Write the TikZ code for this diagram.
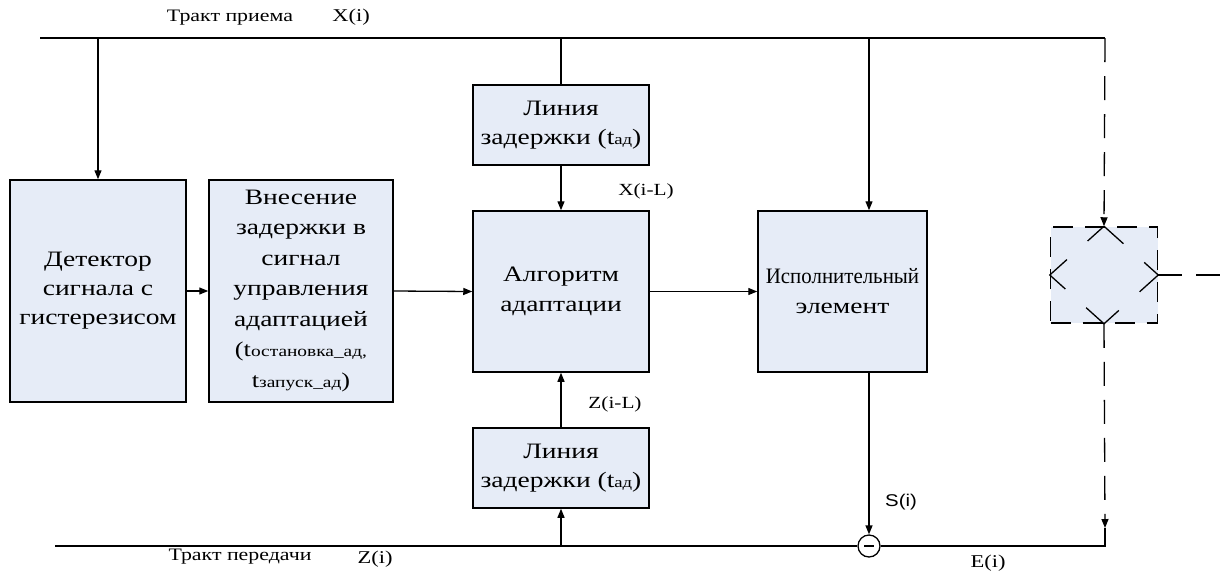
\documentclass[tikz,border=0pt]{standalone}
\usepackage{fontspec}
\setmainfont{Liberation Serif}[FakeStretch=1.25]
\newfontfamily\narrowserif{Liberation Serif}[FakeStretch=0.95]
\newfontfamily\labelsans{Liberation Sans}[FakeStretch=1.2]
\usetikzlibrary{arrows.meta}
\definecolor{boxfill}{RGB}{230,236,247}
\tikzset{
  blk/.style={draw, line width=1.5pt, fill=boxfill, align=center, inner sep=0pt,
              font=\fontsize{22}{29}\selectfont},
  conn/.style={line width=1.3pt},
  arr/.style={conn, -{Triangle[length=9pt,width=7pt]}},
  lbl/.style={inner sep=0pt, font=\fontsize{17.5}{19}\selectfont},
  sig/.style={inner sep=0pt, font=\fontsize{18}{20}\selectfont},
  dsh/.style={dash pattern=on 24pt off 14pt},
  dshbox/.style={draw, line width=1.5pt, fill=boxfill, dash pattern=on 20pt off 12pt, inner sep=0pt}
}
\begin{document}
\begin{tikzpicture}[x=1pt,y=-1pt]
\useasboundingbox (0,0) rectangle (1230,574);

% blocks
\node[blk, minimum width=176pt, minimum height=222pt] (det) at (98,291)
  {Детектор\\сигнала с\\гистерезисом};
\node[blk, minimum width=184pt, minimum height=222pt, font=\fontsize{22}{30.5}\selectfont] (intro) at (301,291)
  {Внесение\\задержки в\\сигнал\\управления\\адаптацией\\
   {\fontsize{21}{30}\selectfont (t{\fontsize{15.5}{30}\selectfont остановка\_ад,}}\\
   {\fontsize{21}{30}\selectfont t{\fontsize{15.5}{30}\selectfont запуск\_ад})}};
\node[blk, minimum width=176pt, minimum height=80pt] (d1) at (561,125)
  {Линия\\задержки (t{\fontsize{15}{20}\selectfont ад})};
\node[blk, minimum width=176pt, minimum height=161pt, font=\fontsize{22}{30}\selectfont] (alg) at (561,291.5)
  {Алгоритм\\адаптации};
\node[blk, minimum width=176pt, minimum height=80pt] (d2) at (561,468)
  {Линия\\задержки (t{\fontsize{15}{20}\selectfont ад})};
\node[blk, minimum width=169pt, minimum height=161pt, font=\fontsize{22}{30}\selectfont] (ex) at (842.5,291.5)
  {{\narrowserif Исполнительный}\\элемент};
\node[dshbox, minimum width=107pt, minimum height=96pt] (dbox) at (1104,275) {};
\node[draw, circle, line width=1.3pt, minimum size=22pt, inner sep=0pt, fill=white] (sub) at (869,546) {};
\draw[line width=1.6pt] ([xshift=-5pt]sub.center) -- ([xshift=5pt]sub.center);

% coordinates of the rails
\coordinate (tl) at (40,38);
\coordinate (tr) at (1105,38);
\coordinate (xe) at (869,38);
\coordinate (bl) at (55,546);
\coordinate (br) at (1105,546);
\coordinate (bj) at (1105,528);
\coordinate (rout) at (1222,275);

% rails
\draw[conn] (tl) -- (tr);
\draw[conn] (bl) -- (sub.west);
\draw[conn] (sub.east) -- (br) -- (bj);

% connectors
\draw[arr] (det.north |- tl) -- (det.north);
\draw[conn] (d1.north |- tl) -- (d1.north);
\draw[arr] (d1.south) -- (alg.north);
\draw[arr] (xe) -- (xe |- ex.north);
\draw[arr] (ex.south -| xe) -- (sub.north);
\draw[arr] (det.east) -- (intro.west);
\draw[arr] (intro.east) -- (alg.west);
\draw[arr] (alg.east) -- (ex.west);
\draw[arr] (d2.south |- bl) -- (d2.south);
\draw[arr] (d2.north) -- (alg.south);

% dashed branch
\draw[arr, dsh] (tr) -- (dbox.north);
\draw[arr, dsh] (dbox.south) -- (bj);
\draw[conn, dsh] (dbox.east) -- (rout);
\draw[conn, dash pattern=on 44pt off 27.9pt, dash phase=22pt]
  (dbox.north) -- (dbox.west) -- (dbox.south) -- (dbox.east) -- cycle;

% labels
\node[lbl] (lrx) at (230,18) {Тракт приема};
\node[sig] (lx) at (351,17) {X(i)};
\node[lbl] (ltx) at (240,557) {Тракт передачи};
\node[sig] (lz) at (375,559) {Z(i)};
\node[sig] (le) at (988,563) {E(i)};
\node[lbl, font=\fontsize{17}{19}\selectfont] (lxl) at (646,191) {X(i-L)};
\node[lbl, font=\fontsize{17}{19}\selectfont] (lzl) at (615,404) {Z(i-L)};
\node[lbl, font=\labelsans\fontsize{17}{19}\selectfont] (ls) at (901,502) {S(i)};
\end{tikzpicture}
\end{document}
